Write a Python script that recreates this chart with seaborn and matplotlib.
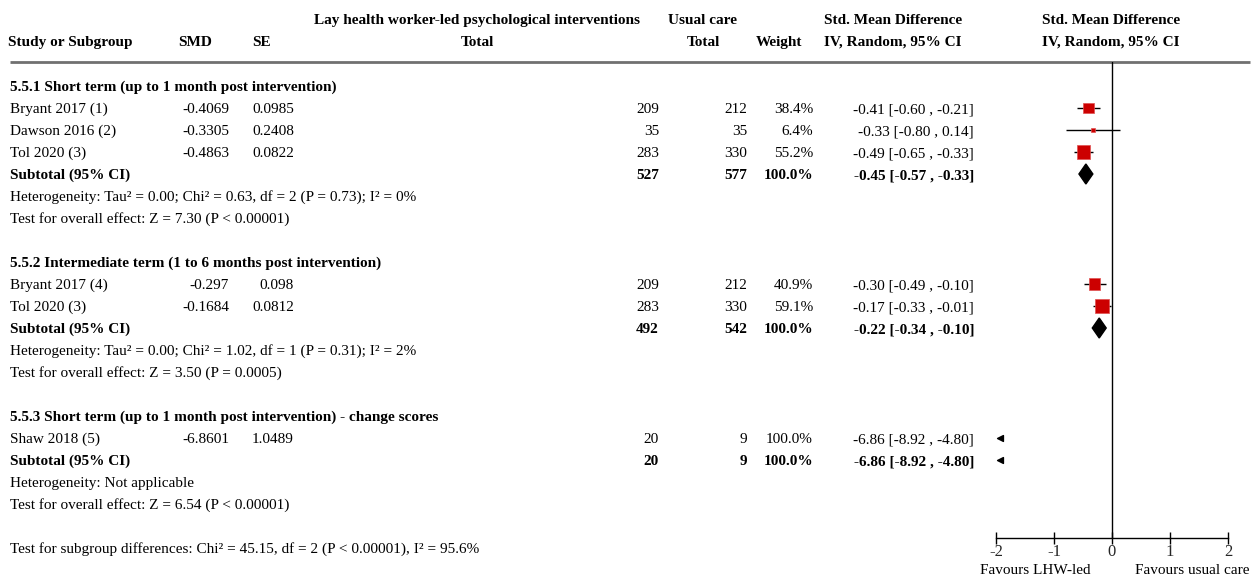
"""
Forest plot: lay health worker-led psychological interventions vs usual care.
"""

import numpy as np
import matplotlib

matplotlib.use("Agg")
import matplotlib.pyplot as plt
from matplotlib.patches import Polygon
import seaborn as sns

# Данные исследований
studies = ["Bryant 2017 (1)", "Dawson 2016 (2)", "Tol 2020 (3)",
           "Bryant 2017 (4)", "Tol 2020 (3)", "Shaw 2018 (5)"]
study_group = [0, 0, 0, 1, 1, 2]
smd_text = ["-0.4069", "-0.3305", "-0.4863", "-0.297", "-0.1684", "-6.8601"]
se_text = ["0.0985", "0.2408", "0.0822", "0.098", "0.0812", "1.0489"]
n_lhw = [209, 35, 283, 209, 283, 20]
n_usual = [212, 35, 330, 212, 330, 9]
weight = [38.4, 6.4, 55.2, 40.9, 59.1, 100.0]
est = [-0.41, -0.33, -0.49, -0.30, -0.17, -6.86]
ci_lo = [-0.60, -0.80, -0.65, -0.49, -0.33, -8.92]
ci_hi = [-0.21, 0.14, -0.33, -0.10, -0.01, -4.80]

# Подгруппы
group_titles = [
    "5.5.1 Short term (up to 1 month post intervention)",
    "5.5.2 Intermediate term (1 to 6 months post intervention)",
    "5.5.3 Short term (up to 1 month post intervention) - change scores",
]
sub_n_lhw = [527, 492, 20]
sub_n_usual = [577, 542, 9]
sub_est = [-0.45, -0.22, -6.86]
sub_lo = [-0.57, -0.34, -8.92]
sub_hi = [-0.33, -0.10, -4.80]
sub_het = [
    "Heterogeneity: Tau² = 0.00; Chi² = 0.63, df = 2 (P = 0.73); I² = 0%",
    "Heterogeneity: Tau² = 0.00; Chi² = 1.02, df = 1 (P = 0.31); I² = 2%",
    "Heterogeneity: Not applicable",
]
sub_test = [
    "Test for overall effect: Z = 7.30 (P < 0.00001)",
    "Test for overall effect: Z = 3.50 (P = 0.0005)",
    "Test for overall effect: Z = 6.54 (P < 0.00001)",
]
subgroup_diff = "Test for subgroup differences: Chi² = 45.15, df = 2 (P < 0.00001), I² = 95.6%"
x_ticks = [-2, -1, 0, 1, 2]
favours_left = "Favours LHW-led"
favours_right = "Favours usual care"

W, H = 1256, 577
ROW0, ROW_H = 86, 22
FOREST_L, FOREST_R = 996, 1228
AXIS_Y, LINE_Y = 538, 62
FS = 11
RED = "#cc0000"

sns.set_theme(style="white")
plt.rcParams["font.family"] = ["Liberation Serif", "DejaVu Serif"]
plt.rcParams["axes.unicode_minus"] = False

fig = plt.figure(figsize=(W / 100, H / 100), dpi=100)
tab = fig.add_axes([0, 0, 1, 1])
tab.set_xlim(0, W)
tab.set_ylim(H, 0)
tab.axis("off")


def txt(x, y, s, ha="left", bold=False):
    # y — центр строки, выравнивание по базовой линии
    tab.text(x, y + 5, s, ha=ha, va="baseline", fontsize=FS,
             fontweight="bold" if bold else "normal", color="black")


# Заголовок таблицы
txt(477, 19, "Lay health worker-led psychological interventions", "center", True)
txt(703, 19, "Usual care", "center", True)
txt(893, 19, "Std. Mean Difference", "center", True)
txt(1111, 19, "Std. Mean Difference", "center", True)
txt(8, 41, "Study or Subgroup", bold=True)
txt(178, 41, "SMD", bold=True)
txt(252, 41, "SE", bold=True)
txt(477, 41, "Total", "center", True)
txt(703, 41, "Total", "center", True)
txt(779, 41, "Weight", "center", True)
txt(893, 41, "IV, Random, 95% CI", "center", True)
txt(1111, 41, "IV, Random, 95% CI", "center", True)
tab.plot([10, 1250], [LINE_Y, LINE_Y], color="#707070", lw=2, solid_capstyle="butt")

# Строки таблицы
study_y = []
sub_y = []
row = 0
for g, title in enumerate(group_titles):
    txt(10, ROW0 + ROW_H * row, title, bold=True)
    row += 1
    for i in range(len(studies)):
        if study_group[i] != g:
            continue
        y = ROW0 + ROW_H * row
        study_y.append(y)
        txt(10, y, studies[i])
        txt(229, y, smd_text[i], "right")
        txt(294, y, se_text[i], "right")
        txt(659, y, str(n_lhw[i]), "right")
        txt(747, y, str(n_usual[i]), "right")
        txt(813, y, f"{weight[i]:.1f}%", "right")
        txt(974, y, f"{est[i]:.2f} [{ci_lo[i]:.2f} , {ci_hi[i]:.2f}]", "right")
        row += 1
    y = ROW0 + ROW_H * row
    sub_y.append(y)
    txt(10, y, "Subtotal (95% CI)", bold=True)
    txt(659, y, str(sub_n_lhw[g]), "right", True)
    txt(747, y, str(sub_n_usual[g]), "right", True)
    txt(813, y, "100.0%", "right", True)
    txt(974, y, f"{sub_est[g]:.2f} [{sub_lo[g]:.2f} , {sub_hi[g]:.2f}]", "right", True)
    row += 1
    txt(10, ROW0 + ROW_H * row, sub_het[g])
    row += 1
    txt(10, ROW0 + ROW_H * row, sub_test[g])
    row += 2
txt(10, ROW0 + ROW_H * row, subgroup_diff)

txt(1035, 569, favours_left, "center")
txt(1192, 569, favours_right, "center")

# Лесной график
ax = fig.add_axes([FOREST_L / W, 1 - AXIS_Y / H,
                   (FOREST_R - FOREST_L) / W, (AXIS_Y - LINE_Y) / H])
ax.set_facecolor("none")
ax.set_xlim(x_ticks[0], x_ticks[-1])
ax.set_ylim(AXIS_Y, LINE_Y)
xmin = x_ticks[0]

est_a = np.array(est)
in_range = est_a >= xmin
ys = np.array(study_y, dtype=float)

ax.hlines(ys, ci_lo, ci_hi, color="black", lw=1, zorder=2)
w_in = np.array(weight)[in_range]
sns.scatterplot(x=est_a[in_range], y=ys[in_range], size=w_in,
                sizes=(1.6 * w_in.min(), 1.6 * w_in.max()),
                size_norm=(w_in.min(), w_in.max()),
                marker="s", color=RED, edgecolor="#e05050", linewidth=0.5,
                legend=False, ax=ax, zorder=3)

# Ромбы подгрупп
for g in range(len(group_titles)):
    if sub_est[g] < xmin:
        continue
    y = sub_y[g]
    ax.add_patch(Polygon([(sub_lo[g], y), (sub_est[g], y - 10),
                          (sub_hi[g], y), (sub_est[g], y + 10)],
                         closed=True, color="black", zorder=3))

# Значения за пределами шкалы
out_y = list(ys[~in_range]) + [sub_y[g] for g in range(len(sub_est)) if sub_est[g] < xmin]
ax.scatter([xmin + 0.07] * len(out_y), out_y, marker="<", s=18,
           color="black", zorder=3, clip_on=False)

ax.axvline(0, color="black", lw=1, zorder=1)
for side in ["top", "right", "left"]:
    ax.spines[side].set_visible(False)
ax.spines["bottom"].set_color("black")
ax.spines["bottom"].set_linewidth(1)
ax.set_yticks([])
ax.set_xticks(x_ticks)
ax.set_xticklabels([str(t) for t in x_ticks], fontsize=FS + 1)
ax.tick_params(axis="x", direction="inout", length=8, width=1, pad=0,
               color="black", bottom=True)
ax.grid(False)

fig.savefig("out.png", dpi=100)
plt.close(fig)
